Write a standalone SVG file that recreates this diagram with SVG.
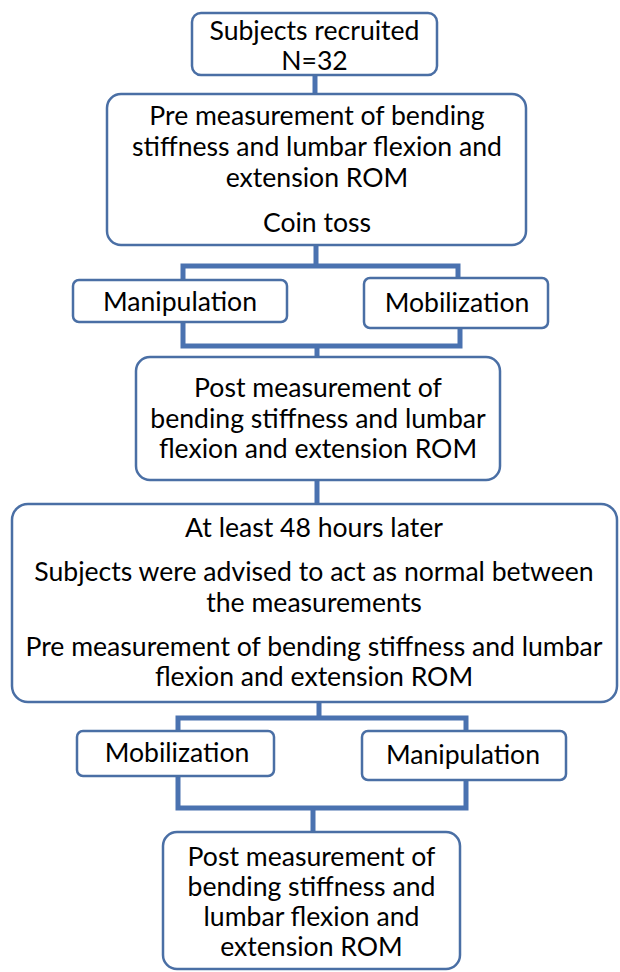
<svg xmlns="http://www.w3.org/2000/svg" width="620" height="972" viewBox="0 0 620 972">
<style>
.box{fill:#fff;stroke:#4a6fa5;stroke-width:2.5}
.t{font-family:Lato,"Liberation Sans",sans-serif;font-size:26.6px;fill:#000;text-anchor:middle}
.c{fill:none;stroke:#4a72b0;stroke-width:5;stroke-linejoin:miter;stroke-linecap:butt}
</style>
<rect width="620" height="972" fill="#fff"/>
<g id="connectors">
<path class="c" d="M315 75V94"/>
<path class="c" d="M316 245V266M183 280V266H458V278"/>
<path class="c" d="M183 322V346H460V328M317 346V357"/>
<path class="c" d="M317 480V504"/>
<path class="c" d="M319 702V718M178 731V718H466V731"/>
<path class="c" d="M178 776V808H466V780M313 808V832"/>
</g>
<g id="n1"><rect class="box" x="192" y="13" width="245" height="62" rx="9"/>
<text class="t" x="314.5" y="40">Subjects recruited</text><text class="t" x="314.5" y="70">N=32</text></g>
<g id="n2"><rect class="box" x="107" y="94" width="419" height="151" rx="14"/>
<text class="t" x="317" y="125">Pre measurement of bending</text>
<text class="t" x="317" y="156">stiffness and lumbar flexion and</text>
<text class="t" x="317" y="187">extension ROM</text>
<text class="t" x="317" y="232">Coin toss</text></g>
<g id="n3"><rect class="box" x="73" y="280" width="214" height="42" rx="6"/>
<text class="t" x="180" y="311">Manipulation</text></g>
<g id="n4"><rect class="box" x="364" y="278" width="184" height="50" rx="6"/>
<text class="t" x="457" y="312">Mobilization</text></g>
<g id="n5"><rect class="box" x="136" y="357" width="364" height="123" rx="14"/>
<text class="t" x="318" y="397">Post measurement of</text>
<text class="t" x="318" y="428">bending stiffness and lumbar</text>
<text class="t" x="318" y="458">flexion and extension ROM</text></g>
<g id="n6"><rect class="box" x="12" y="504" width="605" height="198" rx="16"/>
<text class="t" x="314" y="537">At least 48  hours later</text>
<text class="t" x="314" y="581">Subjects were advised to act as normal between</text>
<text class="t" x="314" y="612">the measurements</text>
<text class="t" x="314" y="656">Pre measurement of bending stiffness and lumbar</text>
<text class="t" x="314" y="686">flexion and extension ROM</text></g>
<g id="n7"><rect class="box" x="77" y="731" width="197" height="45" rx="6"/>
<text class="t" x="177" y="762">Mobilization</text></g>
<g id="n8"><rect class="box" x="362" y="731" width="204" height="49" rx="6"/>
<text class="t" x="463" y="764">Manipulation</text></g>
<g id="n9"><rect class="box" x="163" y="832" width="297" height="137" rx="14"/>
<text class="t" x="311.5" y="866">Post measurement of</text>
<text class="t" x="311.5" y="896">bending stiffness and</text>
<text class="t" x="311.5" y="926">lumbar flexion and</text>
<text class="t" x="311.5" y="956">extension ROM</text></g>
</svg>
